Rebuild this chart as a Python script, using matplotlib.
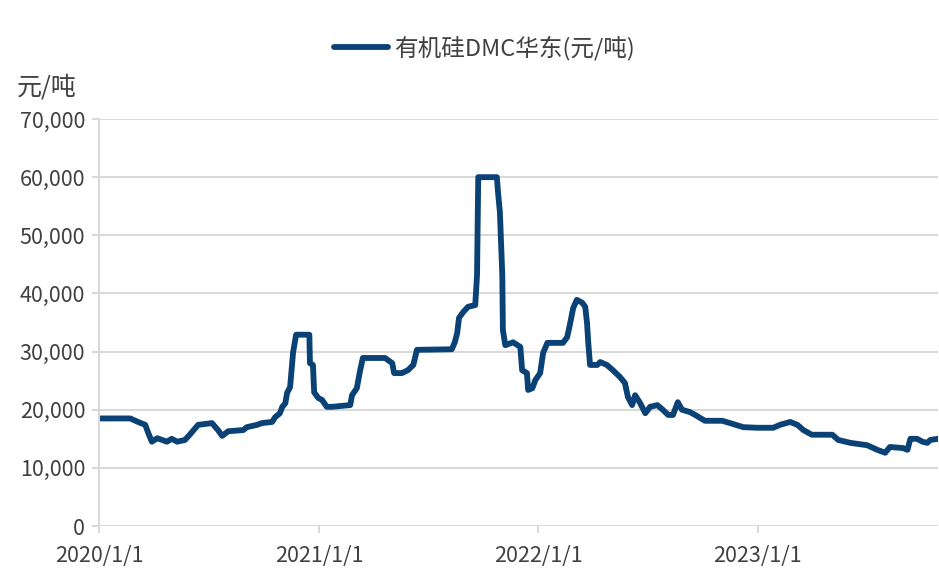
import matplotlib
matplotlib.use("Agg")
import matplotlib.pyplot as plt
import numpy as np
import pandas as pd

plt.rcParams['font.family'] = ['Noto Sans CJK SC', 'DejaVu Sans']

# 有机硅DMC华东 价格 (元/吨)
dates = [
    "2020-01-01", "2020-02-22", "2020-03-06", "2020-03-18", "2020-03-23",
    "2020-03-29", "2020-04-07", "2020-04-23", "2020-05-01", "2020-05-10",
    "2020-05-23", "2020-05-31", "2020-06-14", "2020-07-07", "2020-07-17",
    "2020-07-24", "2020-08-03", "2020-08-28", "2020-09-03", "2020-09-20",
    "2020-09-28", "2020-10-15", "2020-10-20", "2020-10-28", "2020-11-01",
    "2020-11-06", "2020-11-09", "2020-11-14", "2020-11-19", "2020-11-24",
    "2020-12-16", "2020-12-17", "2020-12-22", "2020-12-24", "2020-12-31",
    "2021-01-06", "2021-01-14", "2021-01-23", "2021-02-22", "2021-02-25",
    "2021-03-05", "2021-03-10", "2021-03-15", "2021-04-21", "2021-05-03",
    "2021-05-06", "2021-05-19", "2021-05-29", "2021-06-07", "2021-06-13",
    "2021-08-10", "2021-08-15", "2021-08-19", "2021-08-22", "2021-08-29",
    "2021-09-06", "2021-09-18", "2021-09-21", "2021-09-23", "2021-10-24",
    "2021-10-26", "2021-10-29", "2021-11-02", "2021-11-03", "2021-11-07",
    "2021-11-20", "2021-12-02", "2021-12-05", "2021-12-13", "2021-12-15",
    "2021-12-22", "2021-12-27", "2022-01-04", "2022-01-09", "2022-01-16",
    "2022-02-11", "2022-02-18", "2022-02-23", "2022-02-28", "2022-03-06",
    "2022-03-15", "2022-03-20", "2022-03-23", "2022-03-25", "2022-03-28",
    "2022-04-09", "2022-04-14", "2022-04-25", "2022-05-05", "2022-05-17",
    "2022-05-25", "2022-05-30", "2022-06-06", "2022-06-11", "2022-06-19",
    "2022-06-28", "2022-07-06", "2022-07-18", "2022-07-27", "2022-08-05",
    "2022-08-13", "2022-08-21", "2022-08-28", "2022-09-10", "2022-09-19",
    "2022-09-27", "2022-10-05", "2022-11-03", "2022-11-16", "2022-12-08",
    "2022-12-31", "2023-01-27", "2023-02-07", "2023-02-24", "2023-03-08",
    "2023-03-18", "2023-04-01", "2023-05-05", "2023-05-15", "2023-06-04",
    "2023-07-02", "2023-07-19", "2023-08-01", "2023-08-09", "2023-08-31",
    "2023-09-07", "2023-09-12", "2023-09-23", "2023-10-02", "2023-10-10",
    "2023-10-15", "2023-10-28",
]
prices = [
    18500, 18500, 17900, 17400, 16000,
    14500, 15100, 14500, 15000, 14500,
    14800, 15700, 17400, 17700, 16500,
    15500, 16300, 16500, 17000, 17400,
    17700, 17900, 18700, 19400, 20500,
    21100, 22900, 23900, 29900, 32900,
    32900, 28000, 27700, 23000, 22000,
    21700, 20500, 20500, 20800, 22500,
    23700, 26500, 28900, 28900, 28000,
    26300, 26300, 26800, 27700, 30300,
    30400, 31600, 33200, 35800, 36800,
    37700, 38000, 43200, 60000, 60000,
    57300, 54000, 43200, 33700, 31100,
    31600, 30800, 26800, 26300, 23400,
    23700, 25100, 26300, 29800, 31500,
    31500, 32500, 34900, 37500, 38900,
    38400, 37700, 34900, 31600, 27700,
    27700, 28200, 27700, 26800, 25600,
    24600, 22200, 20800, 22500, 21200,
    19400, 20500, 20800, 20000, 19100,
    19100, 21300, 20000, 19600, 19100,
    18600, 18100, 18100, 17700, 17000,
    16900, 16900, 17400, 17900, 17400,
    16500, 15700, 15700, 14800, 14300,
    13900, 13100, 12600, 13600, 13400,
    13100, 15000, 15000, 14500, 14300,
    14800, 15000,
]
series_name = "有机硅DMC华东(元/吨)"
y_unit = "元/吨"
x_ticks = ["2020-01-01", "2021-01-01", "2022-01-01", "2023-01-01"]
x_end = "2023-10-28"

dt = pd.to_datetime(dates)
line_color = "#0A4275"
grid_color = "#D9D9D9"
text_color = "#404040"

fig = plt.figure(figsize=(9.39, 5.82), dpi=100)
ax = fig.add_axes([0.1054, 0.0962, 0.8936, 0.6993])

ax.plot(dt, prices, color=line_color, lw=4.2, solid_joinstyle="round",
        solid_capstyle="round", label=series_name)

ax.set_xlim(pd.Timestamp(x_ticks[0]), pd.Timestamp(x_end))
ax.set_ylim(0, 70000)
ax.set_yticks(np.arange(0, 70001, 10000))
ax.yaxis.set_major_formatter(matplotlib.ticker.FuncFormatter(lambda v, p: f"{int(v):,}"))
ax.set_xticks(pd.to_datetime(x_ticks))
ax.set_xticklabels([d.replace("-0", "/").replace("-", "/") for d in x_ticks])

ax.grid(axis="y", color=grid_color, lw=1.5)
ax.set_axisbelow(True)
for s in ["top", "right"]:
    ax.spines[s].set_visible(False)
ax.spines["bottom"].set_visible(False)
ax.spines["left"].set_color(grid_color)
ax.spines["left"].set_linewidth(1.5)
ax.tick_params(axis="both", colors=grid_color, labelcolor=text_color,
               labelsize=15.5, length=5, width=1.5)
ax.tick_params(axis="x", pad=9)
ax.tick_params(axis="y", pad=5)

fig.text(0.018, 0.849, y_unit, fontsize=18, color=text_color, va="center")
leg = fig.legend(loc="center", bbox_to_anchor=(0.516, 0.917), frameon=False,
                 fontsize=17, handlelength=2.3, handletextpad=0.25)
for t in leg.get_texts():
    t.set_color(text_color)

fig.savefig("out.png", dpi=100)
